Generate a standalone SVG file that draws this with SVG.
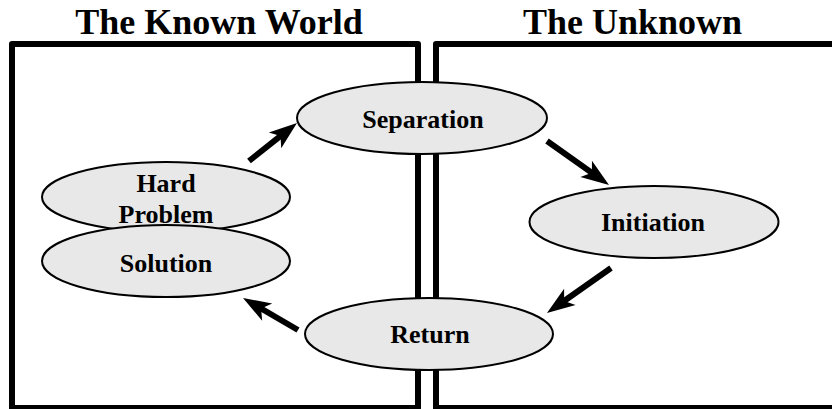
<svg xmlns="http://www.w3.org/2000/svg" width="832" height="409" viewBox="0 0 832 409">
  <style>
    .title { font-family: "Liberation Serif", "Times New Roman", serif; font-weight: bold; font-size: 36px; fill: #000; text-anchor: middle; }
    .label { font-family: "Liberation Serif", "Times New Roman", serif; font-weight: bold; font-size: 26px; fill: #000; text-anchor: middle; }
    .region { fill: none; stroke: #000; stroke-width: 6; stroke-linejoin: round; }
    .stage { fill: #e8e8e8; stroke: #000; stroke-width: 2; }
    .flow { stroke: #000; stroke-width: 6; fill: none; marker-end: url(#head); }
  </style>
  <defs>
    <!-- notched arrowhead, tip sits 14px past the end of its line -->
    <marker id="head" markerUnits="userSpaceOnUse" markerWidth="30" markerHeight="22" refX="14" refY="10" orient="auto" overflow="visible">
      <path d="M0,0 L28,10 L0,20 L7,10 z" fill="#000"/>
    </marker>
  </defs>

  <rect width="832" height="409" fill="#fff"/>

  <!-- the two worlds -->
  <g id="known-world">
    <rect class="region" x="12" y="44" width="406" height="364"/>
    <text class="title" x="219" y="34">The Known World</text>
  </g>
  <g id="unknown">
    <rect class="region" x="436" y="44" width="404" height="364"/>
    <text class="title" x="632.5" y="34">The Unknown</text>
  </g>

  <!-- journey arrows -->
  <g id="connectors">
    <line class="flow" x1="249" y1="161" x2="286" y2="131.7"/>
    <line class="flow" x1="547" y1="141" x2="597.6" y2="176.9"/>
    <line class="flow" x1="611" y1="268" x2="558.4" y2="305"/>
    <line class="flow" x1="298" y1="330" x2="255.1" y2="305"/>
  </g>

  <!-- stages -->
  <g id="separation">
    <ellipse class="stage" cx="422" cy="118" rx="125" ry="36"/>
    <text class="label" x="423" y="128">Separation</text>
  </g>
  <g id="hard-problem">
    <ellipse class="stage" cx="166" cy="197" rx="124" ry="35"/>
    <text class="label" x="166" y="192">Hard</text>
    <text class="label" x="166" y="223">Problem</text>
  </g>
  <g id="solution">
    <ellipse class="stage" cx="166" cy="261" rx="124" ry="36"/>
    <text class="label" x="166" y="272">Solution</text>
  </g>
  <g id="initiation">
    <ellipse class="stage" cx="654" cy="222" rx="124.5" ry="36"/>
    <text class="label" x="653" y="231">Initiation</text>
  </g>
  <g id="return">
    <ellipse class="stage" cx="429" cy="334" rx="124" ry="36"/>
    <text class="label" x="430" y="343">Return</text>
  </g>
</svg>
